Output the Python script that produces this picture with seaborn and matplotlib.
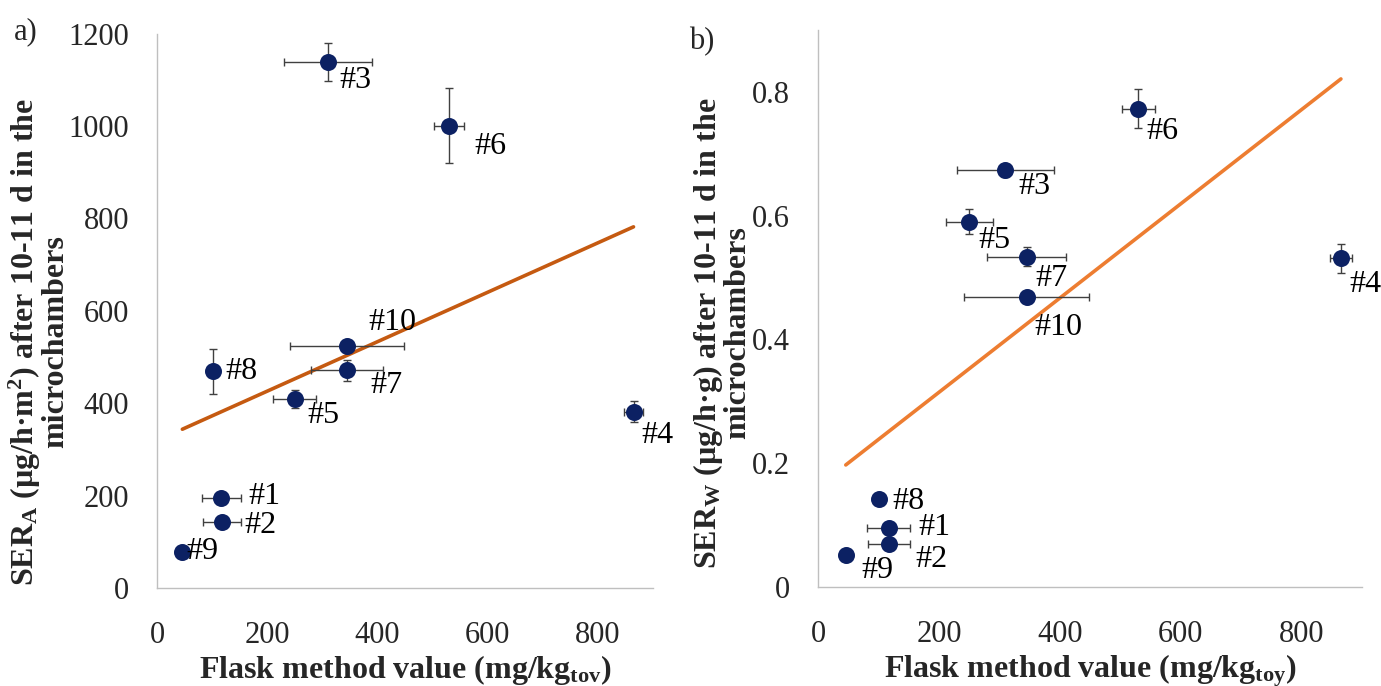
import numpy as np
import pandas as pd
import seaborn as sns
import matplotlib.pyplot as plt

# data
samples = ["#1", "#2", "#3", "#4", "#5", "#6", "#7", "#8", "#9", "#10"]
flask = [117, 118, 310, 865, 250, 530, 345, 101, 46, 345]
flask_err = [36, 35, 80, 18, 39, 27, 66, 0, 0, 104]

ser_a = [195, 143, 1138, 382, 409, 1001, 471, 469, 78, 524]
ser_a_err = [5, 5, 41, 23, 20, 81, 22, 48, 0, 6]

ser_w = [0.095, 0.069, 0.673, 0.531, 0.590, 0.773, 0.534, 0.142, 0.051, 0.469]
ser_w_err = [0.005, 0.005, 0.010, 0.024, 0.020, 0.031, 0.015, 0, 0, 0.005]

# label offsets (pixels) for the "#n" annotations
offs_a = [(27, 1), (22, -4), (12, -18), (8, -24), (13, -16), (25, -21), (23, -15), (13, 0), (4, 0), (21, 23)]
offs_b = [(30, 1), (26, -15), (13, -16), (8, -26), (9, -19), (8, -23), (9, -22), (13, -2), (16, -15), (8, -31)]

sns.set_style("white")
plt.rcParams["font.family"] = ["Liberation Serif", "DejaVu Serif"]
plt.rcParams["mathtext.default"] = "regular"
plt.rcParams["font.size"] = 22

navy = "#0C2163"
fig = plt.figure(figsize=(13.81, 6.86), dpi=100)
ax1 = fig.add_axes([0.1137, 0.1429, 0.359, 0.808])
ax2 = fig.add_axes([0.5923, 0.1443, 0.394, 0.812])


def panel(ax, y, yerr, offs, line_color, ylim, yticks, ylabels, ylabel, xlabel, lab_xy):
    df = pd.DataFrame({"x": flask, "y": y})
    sns.regplot(data=df, x="x", y="y", ax=ax, scatter=False, ci=None, truncate=True,
                line_kws={"color": line_color, "lw": 2.6, "zorder": 1})
    ax.errorbar(flask, y, xerr=flask_err, yerr=yerr, fmt="none", ecolor="#404040",
                elinewidth=1.0, capsize=3, capthick=1.0, zorder=2)
    sns.scatterplot(data=df, x="x", y="y", ax=ax, s=150, color=navy, edgecolor=navy,
                    linewidth=0, zorder=3)
    for name, xv, yv, (dx, dy) in zip(samples, flask, y, offs):
        ax.annotate(name, (xv, yv), xytext=(dx, dy), textcoords="offset pixels",
                    ha="left", va="center", fontsize=23, color="black")
    ax.set_xlim(0, 900)
    ax.set_ylim(*ylim)
    ax.set_xticks([0, 200, 400, 600, 800])
    ax.set_yticks(yticks)
    ax.set_yticklabels(ylabels)
    ax.tick_params(axis="x", length=6, color="#BFBFBF", labelsize=22, pad=18)
    ax.tick_params(axis="y", length=0, labelsize=22, pad=20)
    for s in ["top", "right"]:
        ax.spines[s].set_visible(False)
    for s in ["left", "bottom"]:
        ax.spines[s].set_color("#BFBFBF")
        ax.spines[s].set_linewidth(1.0)
    ax.set_xlabel(xlabel, fontsize=23, fontweight="bold", labelpad=2)
    ax.set_ylabel(ylabel, fontsize=23, fontweight="bold", linespacing=0.9)
    ax.yaxis.set_label_coords(*lab_xy)


panel(ax1, ser_a, ser_a_err, offs_a, "#C55A11", (0, 1200),
      [0, 200, 400, 600, 800, 1000, 1200], ["0", "200", "400", "600", "800", "1000", "1200"],
      "SER$_A$ (µg/h·m$^2$) after 10-11 d in the\nmicrochambers",
      "Flask method value (mg/kg$_{tov}$)", (-0.176, 0.444))
panel(ax2, ser_w, ser_w_err, offs_b, "#ED7D31", (0, 0.9),
      [0, 0.2, 0.4, 0.6, 0.8], ["0", "0.2", "0.4", "0.6", "0.8"],
      "SER$_W$ (µg/h·g) after 10-11 d in the\nmicrochambers",
      "Flask method value (mg/kg$_{toy}$)", (-0.121, 0.456))

fig.text(0.010, 0.954, "a)", fontsize=22, ha="left", va="center")
fig.text(0.499, 0.939, "b)", fontsize=22, ha="left", va="center")

fig.savefig("out.png", dpi=100)
